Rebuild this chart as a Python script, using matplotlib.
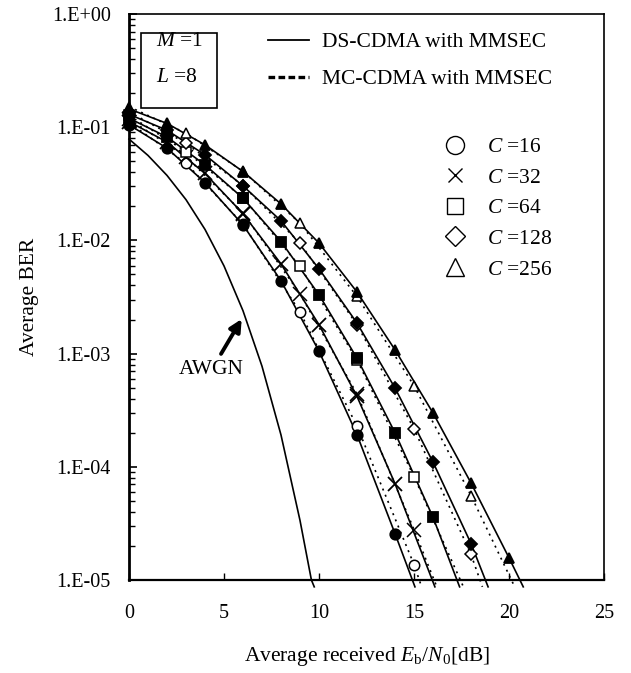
import numpy as np
import matplotlib
matplotlib.use('Agg')
import matplotlib.pyplot as plt
from matplotlib.lines import Line2D
from matplotlib.patches import Rectangle

plt.rcParams['font.family'] = ['Liberation Serif', 'DejaVu Serif']
plt.rcParams['mathtext.fontset'] = 'custom'
plt.rcParams['mathtext.rm'] = 'Liberation Serif'
plt.rcParams['mathtext.it'] = 'Liberation Serif:italic'

# --- data ---
c_labels = ['16', '32', '64', '128', '256']
markers = ['o', 'x', 's', 'D', '^']

ds_x = [0, 2, 4, 6, 8, 10, 12, 14, 16, 18, 20]
ds_c16 = [0.105, 0.0653, 0.0324, 0.0137, 0.0044, 0.00105, 1.92e-4, 2.57e-5]
ds_c32 = [0.112, 0.074, 0.039, 0.0172, 0.0062, 0.0018, 4.19e-4, 7.1e-5]
ds_c64 = [0.12, 0.082, 0.0465, 0.0236, 0.00977, 0.00331, 9.1e-4, 2.0e-4, 3.58e-5]
ds_c128 = [0.13, 0.094, 0.057, 0.0303, 0.0149, 0.00561, 0.00186, 4.97e-4, 1.10e-4, 2.1e-5]
ds_c256 = [0.145, 0.108, 0.0698, 0.0406, 0.021, 0.00946, 0.0035, 0.00108, 2.99e-4, 7.2e-5, 1.57e-5]
ds_tail_x = [15.05, 16.1, 17.4, 18.9, 20.75]   # where the solid lines leave the frame

mc_x = [0, 3, 6, 9, 12, 15, 18]
mc_c16 = [0.11, 0.0481, 0.0139, 0.00233, 2.28e-4, 1.37e-5]
mc_c32 = [0.118, 0.055, 0.0175, 0.00337, 4.4e-4, 2.79e-5]
mc_c64 = [0.127, 0.061, 0.0238, 0.00589, 8.8e-4, 8.2e-5]
mc_c128 = [0.137, 0.0722, 0.0305, 0.00946, 0.0018, 2.17e-4, 1.68e-5]
mc_c256 = [0.152, 0.0885, 0.0408, 0.0142, 0.0032, 5.21e-4, 5.57e-5]
mc_tail_x = [15.4, 16.2, 17.6, 18.6, 20.3]
tail_ber = 8.7e-6

awgn_x = [0, 1, 2, 3, 4, 5, 6, 7, 8, 9, 9.6, 9.75]
awgn_ber = [0.0786, 0.0563, 0.0375, 0.0229, 0.0125, 0.00595, 0.00239,
            7.73e-4, 1.91e-4, 3.36e-5, 1.0e-5, tail_ber]

ytick_vals = [1e-5, 1e-4, 1e-3, 1e-2, 1e-1, 1e0]
ytick_labels = ['1.E-05', '1.E-04', '1.E-03', '1.E-02', '1.E-01', '1.E+00']
xtick_vals = [0, 5, 10, 15, 20, 25]

ds_all = [ds_c16, ds_c32, ds_c64, ds_c128, ds_c256]
mc_all = [mc_c16, mc_c32, mc_c64, mc_c128, mc_c256]

fig = plt.figure(figsize=(6.31, 6.73), dpi=100)
ax = fig.add_axes([129 / 631, 1 - 580 / 673, 475 / 631, 566 / 673])
ax.set_yscale('log')
ax.set_xlim(0, 25)
ax.set_ylim(1e-5, 1)

lw = 1.2
ax.plot(awgn_x, awgn_ber, color='k', lw=lw, clip_on=False)

# DS-CDMA: solid lines, filled markers (drawn on top)
for vals, tx, m in zip(ds_all, ds_tail_x, markers):
    xs = ds_x[:len(vals)]
    ax.plot(xs + [tx], vals + [tail_ber], color='k', lw=lw, clip_on=False, zorder=2)
    ms = 10 if m == 'x' else (6.5 if m == 'D' else 7.5)
    ax.plot(xs, vals, ls='none', marker=m, ms=ms, mfc='k', mec='k', mew=1.3,
            clip_on=False, zorder=4)

# MC-CDMA: dotted lines, open markers
for vals, tx, m in zip(mc_all, mc_tail_x, markers):
    xs = mc_x[:len(vals)]
    ax.plot(xs + [tx], vals + [tail_ber], color='k', lw=lw, ls=(0, (1.2, 2.8)),
            clip_on=False, zorder=2)
    ms = 10 if m == 'x' else (6.5 if m == 'D' else 7.5)
    ax.plot(xs, vals, ls='none', marker=m, ms=ms, mfc='white', mec='k', mew=1.1,
            clip_on=False, zorder=3)

# axes styling
ax.set_yticks(ytick_vals)
ax.set_yticklabels(ytick_labels)
ax.set_xticks(xtick_vals)
ax.tick_params(axis='y', which='major', direction='in', length=6, width=1.2,
               labelsize=14.5, pad=13)
ax.tick_params(axis='y', which='minor', direction='in', length=4, width=1.0)
ax.tick_params(axis='x', which='major', direction='in', length=5, width=1.0,
               labelsize=14.5, pad=17)
ax.tick_params(axis='x', which='minor', bottom=False)
for s in ax.spines.values():
    s.set_linewidth(1.2)
ax.spines['left'].set_linewidth(2.0)
ax.spines['bottom'].set_linewidth(1.6)

ax.set_xlabel(r'Average received $E$$_{\rm b}$/$N$$_{\rm 0}$[dB]', fontsize=15.5)
ax.set_ylabel('Average BER', fontsize=15.5)
ax.xaxis.set_label_coords(0.5, -0.115)
ax.yaxis.set_label_coords(-0.19, 0.5)

# AWGN annotation
ax.annotate('AWGN', xy=(5.93, 0.00202), xytext=(4.35, 7.2e-4), ha='center', va='center',
            fontsize=15.5,
            arrowprops=dict(arrowstyle='-|>', lw=2.8, color='k', mutation_scale=18,
                            shrinkA=3, shrinkB=0))

# M / L box
ax.add_patch(Rectangle((12 / 475, 1 - 94 / 566), 76 / 475, 75 / 566, transform=ax.transAxes,
                       fill=False, ec='k', lw=1.2))
ax.text(27 / 475, 1 - 28 / 566, r'$M$ =1', transform=ax.transAxes, fontsize=15.5,
        ha='left', va='center')
ax.text(27 / 475, 1 - 64 / 566, r'$L$ =8', transform=ax.transAxes, fontsize=15.5,
        ha='left', va='center')

# legends
line_handles = [Line2D([], [], color='k', lw=1.3),
                Line2D([], [], color='k', lw=2.4, ls=(0, (2.0, 1.0)))]
leg1 = ax.legend(line_handles, ['DS-CDMA with MMSEC', 'MC-CDMA with MMSEC'],
                 loc='upper left', bbox_to_anchor=(139 / 475, 1 - 18 / 566),
                 frameon=False, fontsize=15.5, handlelength=1.9, handletextpad=0.6,
                 labelspacing=0.8, borderpad=0, borderaxespad=0)
ax.add_artist(leg1)

leg_ms = [13, 10, 12, 10.5, 13]
mark_handles = [Line2D([], [], ls='none', marker=m, ms=s, mfc='white', mec='k', mew=1.0)
                for m, s in zip(markers, leg_ms)]
ax.legend(mark_handles, [r'$C$ =' + c for c in c_labels],
          loc='upper left', bbox_to_anchor=(315 / 475, 1 - 123 / 566),
          frameon=False, fontsize=15.5, handlelength=1.0, handletextpad=1.0,
          labelspacing=0.49, borderpad=0, borderaxespad=0)

fig.savefig('out.png', dpi=100)
